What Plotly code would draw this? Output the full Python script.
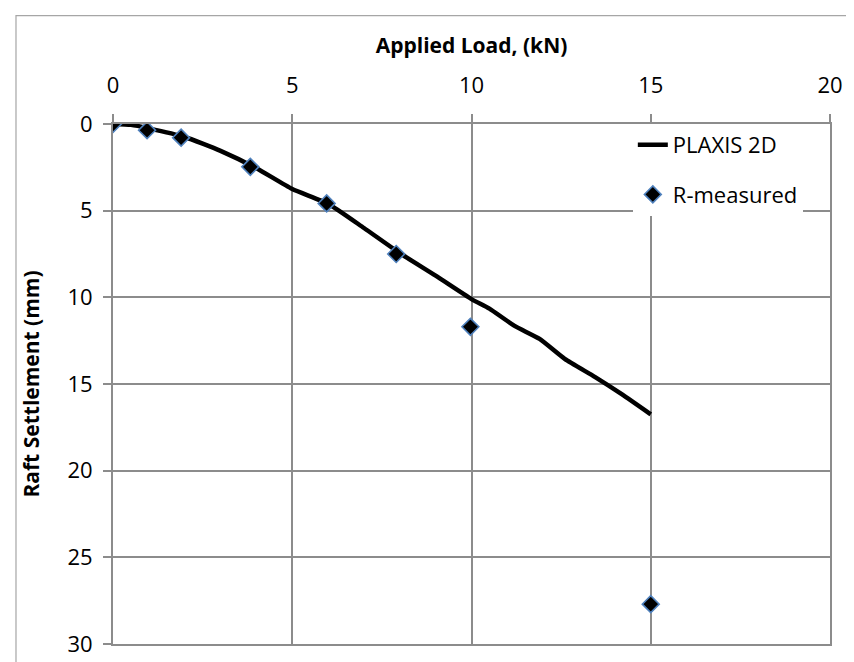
import plotly.graph_objects as go

# PLAXIS 2D curve
plaxis_load = [0, 0.5, 1, 2, 3, 4, 5, 6, 7, 8, 9, 10, 10.5, 11.2, 11.9, 12.6, 13.45, 14.2, 15]
plaxis_settle = [0, 0.05, 0.25, 0.75, 1.55, 2.55, 3.75, 4.6, 6.0, 7.45, 8.75, 10.1, 10.65, 11.65, 12.4, 13.55, 14.6, 15.6, 16.75]

# R-measured points
meas_load = [0, 0.95, 1.9, 3.83, 5.96, 7.9, 9.97, 15]
meas_settle = [0, 0.36, 0.79, 2.47, 4.58, 7.5, 11.7, 27.7]

x_ticks = [0, 5, 10, 15, 20]
y_ticks = [0, 5, 10, 15, 20, 25, 30]

FONT = "Open Sans"
GRID = "#8c8c8c"

fig = go.Figure()
fig.add_trace(go.Scatter(
    x=plaxis_load, y=plaxis_settle, mode="lines", name="PLAXIS 2D",
    line=dict(color="black", width=4.5, shape="spline", smoothing=0.5),
    legendgroup="a",
))
fig.add_trace(go.Scatter(
    x=meas_load, y=meas_settle, mode="markers", name="R-measured",
    marker=dict(symbol="diamond", size=13, color="black",
                line=dict(color="#4f81bd", width=1.6)),
    legendgroup="b",
))

fig.update_layout(
    width=854, height=662,
    margin=dict(l=105, r=32, t=116, b=20),
    paper_bgcolor="white", plot_bgcolor="white",
    font=dict(family=FONT, size=22, color="black"),
    showlegend=True,
    legend=dict(x=0.725, y=1.0, xanchor="left", yanchor="top",
                bgcolor="white", borderwidth=0, tracegroupgap=18,
                traceorder="grouped", font=dict(size=22)),
    xaxis=dict(
        side="top", range=[0, 20], tickvals=x_ticks, ticktext=[str(v) for v in x_ticks],
        showgrid=True, gridcolor=GRID, gridwidth=2,
        showline=True, linecolor=GRID, linewidth=2, mirror=True,
        ticks="outside", ticklen=8, tickcolor=GRID, tickwidth=2,
        zeroline=False, ticklabelstandoff=12,
        title=dict(text="<b>Applied Load, (kN)</b>", font=dict(size=21), standoff=10),
    ),
    yaxis=dict(
        range=[30, 0], tickvals=y_ticks, ticktext=[str(v) for v in y_ticks],
        showgrid=True, gridcolor=GRID, gridwidth=2,
        showline=True, linecolor=GRID, linewidth=2, mirror=True,
        ticks="outside", ticklen=8, tickcolor=GRID, tickwidth=2,
        zeroline=False, ticklabelstandoff=6,
        title=dict(text="<b>Raft Settlement (mm)</b>", font=dict(size=21), standoff=22),
    ),
    shapes=[dict(type="rect", xref="paper", yref="paper",
                 x0=-0.1353, x1=1.2, y0=-0.2, y1=1.2084,
                 line=dict(color="#a6a6a6", width=1.2), fillcolor="rgba(0,0,0,0)",
                 layer="below")],
)

fig.write_html("out.html")
